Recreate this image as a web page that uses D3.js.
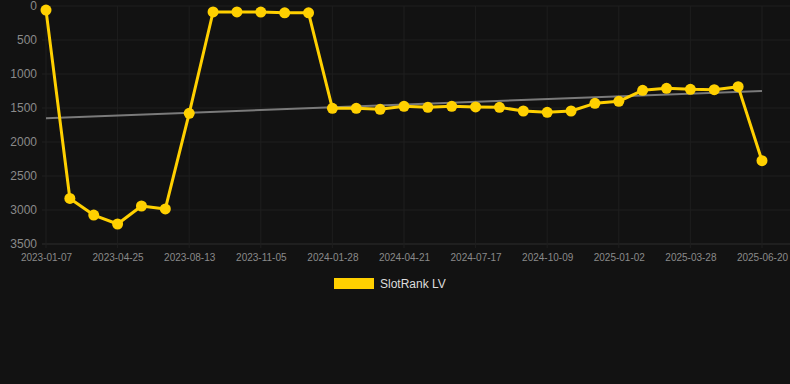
<!DOCTYPE html>
<html>
<head>
<meta charset="utf-8">
<script src="https://cdn.jsdelivr.net/npm/d3@7"></script>
<style>
  html, body { margin: 0; padding: 0; background: #121212; }
  svg { display: block; font-family: "Liberation Sans", Arial, sans-serif; }
</style>
</head>
<body>
<svg id="chart"></svg>
<script>
// categories (one per snapshot) and rank values
var dates = [
  '2023-01-07', '2023-02-12', '2023-03-20', '2023-04-25', '2023-06-01', '2023-07-08',
  '2023-08-13', '2023-09-10', '2023-10-08', '2023-11-05', '2023-12-03', '2023-12-31',
  '2024-01-28', '2024-02-25', '2024-03-24', '2024-04-21', '2024-05-19', '2024-06-18',
  '2024-07-17', '2024-08-14', '2024-09-11', '2024-10-09', '2024-11-06', '2024-12-05',
  '2025-01-02', '2025-01-30', '2025-02-28', '2025-03-28', '2025-04-25', '2025-05-23',
  '2025-06-20'
];
var ranks = [
  60, 2830, 3074, 3206, 2941, 2985,
  1578, 88, 88, 90, 100, 100,
  1505, 1505, 1520, 1475, 1490, 1475,
  1485, 1490, 1544, 1563, 1544, 1431,
  1402, 1240, 1211, 1225, 1230, 1186,
  2275
];
var yTicks = [0, 500, 1000, 1500, 2000, 2500, 3000, 3500];
var seriesName = 'SlotRank LV';

var width = 790;
var height = 384;
var padLeft = 46, padRight = 762, padTop = 6, padBottom = 244;

var svg = d3.select('#chart').attr('width', width).attr('height', height);

var xScale = d3.scalePoint().domain(dates).range([padLeft, padRight]);
var yScale = d3.scaleLinear().domain([0, 3500]).range([padTop, padBottom]);

var shownDates = dates.filter((d, i) => i % 3 === 0);

// grid
svg.append('g')
  .selectAll('line')
  .data(yTicks)
  .enter()
  .append('line')
  .attr('x1', padLeft - 4)
  .attr('x2', padRight + 28)
  .attr('y1', (d) => yScale(d))
  .attr('y2', (d) => yScale(d))
  .attr('stroke', (d) => (d === 3500 ? '#2c2c2c' : '#1e1e1e'))
  .attr('stroke-width', 1);

svg.append('g')
  .selectAll('line')
  .data(shownDates)
  .enter()
  .append('line')
  .attr('x1', (d) => xScale(d))
  .attr('x2', (d) => xScale(d))
  .attr('y1', padTop)
  .attr('y2', padBottom + 4)
  .attr('stroke', '#1e1e1e')
  .attr('stroke-width', 1);

// axes
var yAxis = d3.axisLeft(yScale).tickValues(yTicks).tickFormat(d3.format('d')).tickSize(0).tickPadding(9);
var yG = svg.append('g').attr('transform', 'translate(' + padLeft + ',0)').call(yAxis);
yG.select('.domain').remove();
yG.selectAll('text').attr('fill', '#8a8a8a').attr('font-size', 12)
  .attr('font-family', '"Liberation Sans", Arial, sans-serif');

var xAxis = d3.axisBottom(xScale).tickValues(shownDates).tickSize(0).tickPadding(10);
var xG = svg.append('g').attr('transform', 'translate(0,' + padBottom + ')').call(xAxis);
xG.select('.domain').remove();
xG.selectAll('text').attr('fill', '#8a8a8a').attr('font-size', 10)
  .attr('font-family', '"Liberation Sans", Arial, sans-serif');

// least-squares trend
var n = ranks.length;
var mx = d3.mean(ranks, (d, i) => i);
var my = d3.mean(ranks);
var slope = d3.sum(ranks, (d, i) => (i - mx) * (d - my)) / d3.sum(ranks, (d, i) => (i - mx) * (i - mx));
var icpt = my - slope * mx;

svg.append('line')
  .attr('x1', xScale(dates[0]))
  .attr('x2', xScale(dates[n - 1]))
  .attr('y1', yScale(icpt))
  .attr('y2', yScale(icpt + slope * (n - 1)))
  .attr('stroke', '#7a7a7a')
  .attr('stroke-width', 2);

// series
var line = d3.line()
  .x((d, i) => xScale(dates[i]))
  .y((d) => yScale(d));

svg.append('path')
  .datum(ranks)
  .attr('d', line)
  .attr('fill', 'none')
  .attr('stroke', '#ffd000')
  .attr('stroke-width', 3)
  .attr('stroke-linejoin', 'round');

svg.append('g')
  .selectAll('circle')
  .data(ranks)
  .enter()
  .append('circle')
  .attr('cx', (d, i) => xScale(dates[i]))
  .attr('cy', (d) => yScale(d))
  .attr('r', 5.5)
  .attr('fill', '#ffd000');

// legend
svg.append('rect')
  .attr('x', 334)
  .attr('y', 278)
  .attr('width', 40)
  .attr('height', 11)
  .attr('fill', '#ffd000');

svg.append('text')
  .attr('x', 380)
  .attr('y', 284)
  .attr('dy', '0.35em')
  .attr('fill', '#dddddd')
  .attr('font-size', 12)
  .text(seriesName);
</script>
</body>
</html>
